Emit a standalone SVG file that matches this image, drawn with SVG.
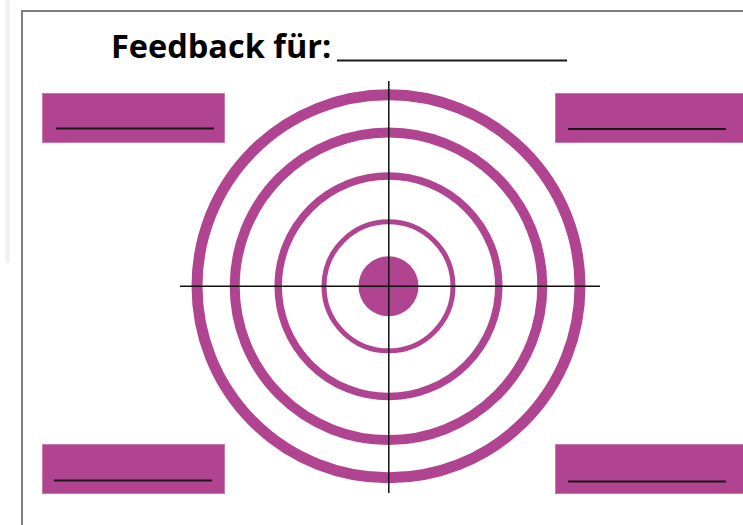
<svg xmlns="http://www.w3.org/2000/svg" width="743" height="525" viewBox="0 0 743 525">
<style>
.box{fill:#b14491;stroke:#c878b0;stroke-width:1}
.blank{stroke:#1a1a1a;stroke-width:2}
.ring{fill:none;stroke:#b14491}
.cross{stroke:#111;stroke-width:1.5}
.title{font-family:"Open Sans","Liberation Sans",sans-serif;font-weight:bold;font-size:32.5px;fill:#000}
</style>
<rect x="0" y="0" width="743" height="525" fill="#fff"/>
<rect x="5" y="0" width="5" height="263" fill="#f2f2f2"/>
<path d="M22 525 V11 H743" fill="none" stroke="#7f7f7f" stroke-width="2"/>
<g id="title">
<text class="title" x="111" y="58">Feedback für:</text>
<line class="blank" x1="337" y1="60.5" x2="567" y2="60.5"/>
</g>
<g id="box-tl"><rect class="box" x="42.5" y="93.5" width="182" height="49"/><line class="blank" x1="56" y1="128.5" x2="214" y2="128.5"/></g>
<g id="box-tr"><rect class="box" x="555.5" y="93.5" width="190" height="49"/><line class="blank" x1="568" y1="129" x2="726" y2="129"/></g>
<g id="box-bl"><rect class="box" x="42.5" y="444.5" width="182" height="49"/><line class="blank" x1="54" y1="480.5" x2="212" y2="480.5"/></g>
<g id="box-br"><rect class="box" x="555.5" y="444.5" width="190" height="49"/><line class="blank" x1="568" y1="481.5" x2="726" y2="481.5"/></g>
<g id="target">
<circle class="ring" cx="388.5" cy="286.3" r="191.5" stroke-width="11"/>
<circle class="ring" cx="388.5" cy="286.3" r="153.8" stroke-width="10"/>
<circle class="ring" cx="388.5" cy="286.3" r="110.3" stroke-width="7.5"/>
<circle class="ring" cx="388.5" cy="286.3" r="64.5" stroke-width="5"/>
<circle cx="388.5" cy="286.3" r="30" fill="#b14491"/>
</g>
<g id="connectors">
<line class="cross" x1="180" y1="286.3" x2="600" y2="286.3"/>
<line class="cross" x1="388.8" y1="81" x2="388.8" y2="493"/>
</g>
</svg>
